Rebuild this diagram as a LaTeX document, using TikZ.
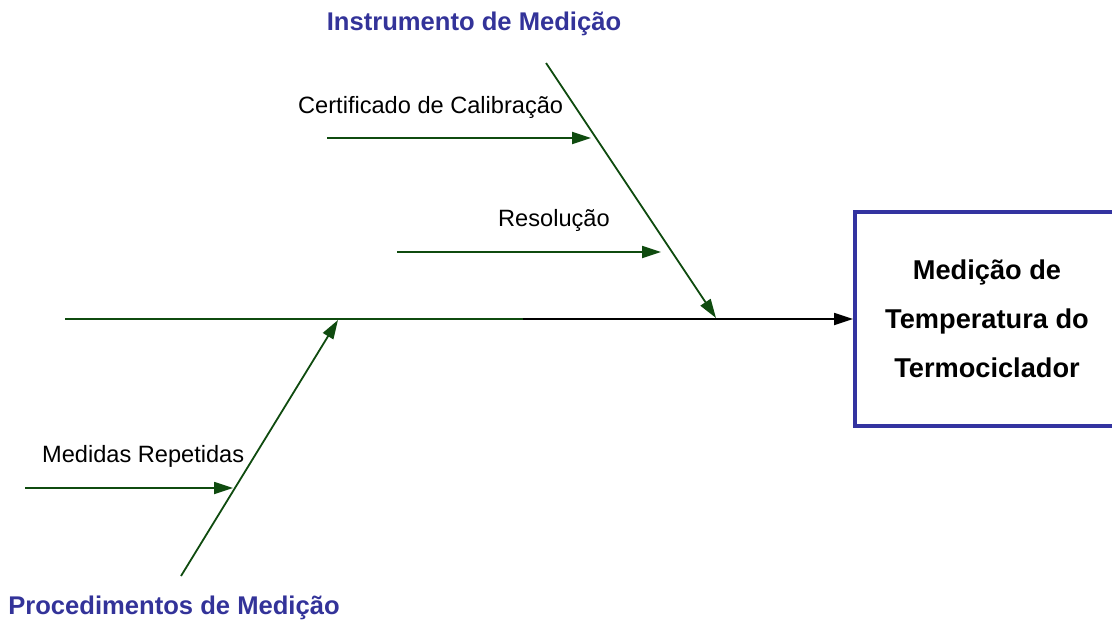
\documentclass[tikz,border=0pt]{standalone}
\usepackage{fontspec}
\setmainfont{Liberation Sans}
\usetikzlibrary{arrows.meta}
\definecolor{bonegreen}{RGB}{15,75,15}
\definecolor{titleblue}{RGB}{51,51,153}
\definecolor{boxblue}{RGB}{51,51,160}
\tikzset{
  bone/.style={draw=bonegreen, line width=1.8pt},
  bonearrow/.style={bone, -{Triangle[length=19pt,width=12pt]}},
  causelabel/.style={inner sep=0pt, font=\fontsize{23.6}{26}\selectfont, text=black},
  titlelabel/.style={inner sep=0pt, font=\bfseries\fontsize{25.6}{28}\selectfont, text=titleblue},
  effectbox/.style={draw=boxblue, line width=4pt, fill=white, minimum width=264pt, minimum height=214pt, align=center, font=\bfseries\fontsize{27.2}{49}\selectfont}
}
\begin{document}
\begin{tikzpicture}[x=1pt,y=-1pt]
\useasboundingbox (0,0) rectangle (1112,622);
\clip (0,0) rectangle (1112,622);
% effect box
\node[effectbox] (effect) at (987,319) {Medição de\\Temperatura do\\Termociclador};
% spine
\coordinate (spineStart) at (65,319);
\coordinate (spineMid) at (523,319);
\draw[bone] (spineStart) -- (spineMid);
\draw[line width=1.8pt, -{Triangle[length=19pt,width=12pt]}] (spineMid) -- (effect.west);
% upper bone
\coordinate (upTop) at (546,63);
\coordinate (upEnd) at (716,318);
\draw[bonearrow] (upTop) -- (upEnd);
\node[titlelabel] (upTitle) at (474,24) {Instrumento de Medição};
% certificado
\coordinate (certStart) at (327,138);
\coordinate (certEnd) at (591,138);
\draw[bonearrow] (certStart) -- (certEnd);
\node[causelabel, anchor=base west] (cert) at (298,113) {Certificado de Calibração};
% resolucao
\coordinate (resStart) at (397,252);
\coordinate (resEnd) at (661,252);
\draw[bonearrow] (resStart) -- (resEnd);
\node[causelabel, anchor=base west] (res) at (498,226) {Resolução};
% lower bone
\coordinate (lowBottom) at (181,576);
\coordinate (lowEnd) at (338,320);
\draw[bonearrow] (lowBottom) -- (lowEnd);
\node[titlelabel] (lowTitle) at (174,608) {Procedimentos de Medição};
% medidas
\coordinate (medStart) at (25,488);
\coordinate (medEnd) at (233,488);
\draw[bonearrow] (medStart) -- (medEnd);
\node[causelabel, anchor=base west] (med) at (42,462) {Medidas Repetidas};
\end{tikzpicture}
\end{document}
